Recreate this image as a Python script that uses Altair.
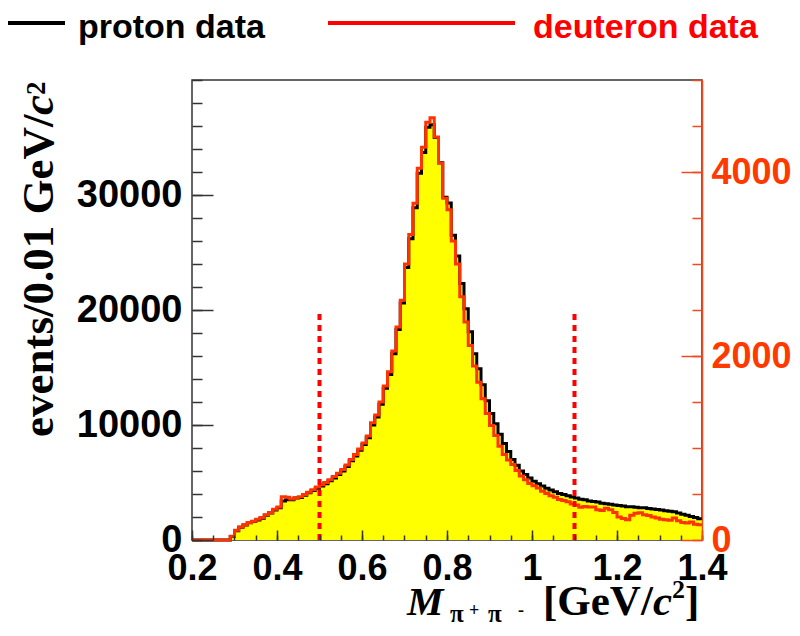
import altair as alt
import pandas as pd

# ---------------- data ----------------
edges = [round(0.20 + 0.01 * i, 2) for i in range(121)]  # bin edges 0.20 ... 1.40

# proton data, events / 0.01 GeV (left axis), bins 0.20-0.21 ... 1.39-1.40
proton = [
    0, 0, 0, 0, 0, 0, 0, 0, 0,
    300, 800, 1100, 1300, 1500, 1600, 1750, 1900, 2150, 2350, 2600,
    2800, 3400, 3500, 3500, 3650, 3700, 3900, 4100, 4300, 4500,
    4700, 4900, 5150, 5400, 5700, 6000, 6400, 6900, 7300, 7800,
    8300, 8900, 10000, 10700, 11800, 13200, 14400, 16200, 18300, 20600,
    23700, 26200, 28900, 31900, 33700, 35900, 36100, 35000, 32800, 29800,
    29300, 26500, 24700, 22300, 20100, 18100, 16200, 14900, 13500, 12100,
    11000, 10100, 9200, 8400, 7700, 7000, 6500, 6000, 5700, 5400,
    5100, 4900, 4700, 4500, 4350, 4200, 4050, 3950, 3850, 3750,
    3650, 3550, 3500, 3400, 3350, 3300, 3200, 3150, 3100, 3050,
    3000, 2950, 2900, 2900, 2850, 2800, 2800, 2750, 2700, 2650,
    2600, 2550, 2500, 2450, 2350, 2250, 2150, 2050, 1950, 1850,
]

# deuteron data, events / 0.01 GeV (right axis)
deuteron = [
    0, 0, 0, 0, 0, 0, 0, 0, 0,
    40, 105, 140, 165, 190, 205, 225, 245, 275, 300, 335,
    360, 470, 465, 445, 460, 470, 495, 520, 545, 575,
    600, 625, 655, 690, 725, 765, 815, 875, 930, 990,
    1055, 1130, 1275, 1360, 1500, 1675, 1830, 2055, 2315, 2605,
    3000, 3320, 3660, 4040, 4270, 4540, 4590, 4380, 4095, 3715,
    3590, 3250, 3000, 2645, 2370, 2115, 1890, 1715, 1535, 1375,
    1245, 1135, 1020, 930, 870, 820, 755, 695, 655, 615,
    590, 565, 530, 505, 480, 465, 440, 430, 415, 390,
    380, 355, 365, 360, 360, 330, 320, 345, 330, 300,
    250, 235, 220, 270, 290, 295, 275, 265, 250, 240,
    225, 220, 215, 240, 210, 190, 185, 195, 170, 165,
]

cuts = [0.5, 1.1]
cut_top = 20000

x_major = [0.2, 0.4, 0.6, 0.8, 1.0, 1.2, 1.4]
x_minor = [round(0.2 + 0.05 * i, 2) for i in range(25)]
yl_major = [0, 10000, 20000, 30000]
yl_minor = list(range(0, 40001, 2000))
yr_major = [0, 2000, 4000]
yr_minor = list(range(0, 5001, 500))

hist = pd.DataFrame({
    "m": edges,
    "p": proton + [proton[-1]],
    "d": deuteron + [deuteron[-1]],
})
cut_df = pd.DataFrame({"c": cuts, "y0": [0] * len(cuts), "y1": [cut_top] * len(cuts)})

# ---------------- styling ----------------
SANS = "Liberation Sans"
SERIF = "Liberation Serif"
RED_AX = "#ee4a22"
RED_LBL = "#ff3a00"
RED_LINE = "#ff3300"

xs = alt.Scale(domain=[0.2, 1.4], nice=False, zero=False)
yl = alt.Scale(domain=[0, 40000], nice=False)
yr = alt.Scale(domain=[0, 5000], nice=False)


def tick_axis(orient, values, size, color, labels=False, **kw):
    base = dict(orient=orient, values=values, tickSize=size, offset=-size,
                domain=False, grid=False, title=None, tickColor=color,
                tickWidth=1.5, labels=labels, zindex=1)
    base.update(kw)
    return alt.Axis(**base)


label_kw = dict(labelFont=SANS, labelFontWeight="bold", labelFlush=False,
                labelOverlap=False)

area = alt.Chart(hist).mark_area(interpolate="step-after", color="#ffff00").encode(
    x=alt.X("m:Q", scale=xs, axis=tick_axis(
        "bottom", x_major, 10, "#333", labels=True, format="~g",
        labelFontSize=36, labelColor="black", labelPadding=11, **label_kw)),
    y=alt.Y("p:Q", scale=yl, axis=tick_axis(
        "left", yl_major, 21, "#333", labels=True, format="d",
        labelFontSize=38, labelColor="black", labelPadding=10, **label_kw)),
)

p_line = alt.Chart(hist).mark_line(interpolate="step-after", color="black",
                                   strokeWidth=3).encode(
    x=alt.X("m:Q", scale=xs, axis=tick_axis("bottom", x_minor, 5, "#333")),
    y=alt.Y("p:Q", scale=yl, axis=tick_axis("left", yl_minor, 10, "#333")),
)

d_line = alt.Chart(hist).mark_line(interpolate="step-after", color=RED_LINE,
                                   strokeWidth=3).encode(
    x=alt.X("m:Q", scale=xs, axis=None),
    y=alt.Y("d:Q", scale=yr, axis=tick_axis(
        "right", yr_major, 21, RED_AX, labels=True, format="d",
        labelFontSize=36, labelColor=RED_LBL, labelPadding=9, **label_kw)),
)

d_minor = alt.Chart(hist).mark_line(interpolate="step-after", opacity=0).encode(
    x=alt.X("m:Q", scale=xs, axis=None),
    y=alt.Y("d:Q", scale=yr, axis=tick_axis("right", yr_minor, 10, RED_AX)),
)

d_frame = alt.Chart(hist).mark_line(interpolate="step-after", opacity=0).encode(
    x=alt.X("m:Q", scale=xs, axis=None),
    y=alt.Y("d:Q", scale=yr, axis=alt.Axis(
        orient="right", domain=True, domainColor=RED_AX, domainWidth=1.5,
        ticks=False, labels=False, grid=False, title=None, zindex=1)),
)

rules = alt.Chart(cut_df).mark_rule(color="#ff0000", strokeWidth=4,
                                    strokeDash=[6, 5]).encode(
    x=alt.X("c:Q", scale=xs, axis=None),
    y=alt.Y("y0:Q", scale=yl, axis=None),
    y2="y1:Q",
)


def txt(s, x, y, size, color="black", font=SANS, style="normal", angle=0):
    return alt.Chart(pd.DataFrame({"t": [s]})).mark_text(
        x=x, y=y, fontSize=size, color=color, font=font, fontWeight="bold",
        fontStyle=style, angle=angle, align="left", baseline="alphabetic",
    ).encode(text="t:N")


def leg_line(x1, x2, y, color):
    return alt.Chart(pd.DataFrame({"a": [0]})).mark_rule(
        color=color, strokeWidth=4).encode(
        x=alt.value(x1), x2=alt.value(x2), y=alt.value(y))


texts = [
    leg_line(-192, -127, -57, "black"),
    txt("proton data", -114, -42, 34),
    leg_line(136, 323, -57, "#ff0000"),
    txt("deuteron data", 341, -42, 34, color="#ff0000"),
    # y title
    txt("events/0.01 GeV/", -139, 357, 45, font=SERIF, angle=270),
    txt("c", -139, 35, 45, font=SERIF, style="italic", angle=270),
    txt("2", -147, 15, 27, font=SERIF, angle=270),
    # x title
    txt("M", 215, 535, 41, font=SERIF, style="italic"),
    txt("\u03c0", 258, 542, 25, font=SERIF),
    txt("+", 277, 536, 18, font=SERIF),
    txt("\u03c0", 296, 542, 25, font=SERIF),
    txt("-", 326, 536, 18, font=SERIF),
    txt("[GeV/", 351, 535, 43, font=SERIF),
    txt("c", 461, 535, 43, font=SERIF, style="italic"),
    txt("2", 480, 518, 26, font=SERIF),
    txt("]", 493, 535, 43, font=SERIF),
]

chart = alt.layer(area, p_line, d_line, d_minor, d_frame, rules, *texts).resolve_scale(
    y="independent"
).resolve_axis(
    x="independent", y="independent"
).properties(
    width=510,
    height=460,
    autosize=alt.AutoSizeParams(type="none"),
    padding={"left": 184, "top": 72, "right": 90, "bottom": 88},
    background="white",
).configure_view(stroke="#333", strokeWidth=1.5)

chart.save("out.html", embed_options={"renderer": "svg", "actions": False})
